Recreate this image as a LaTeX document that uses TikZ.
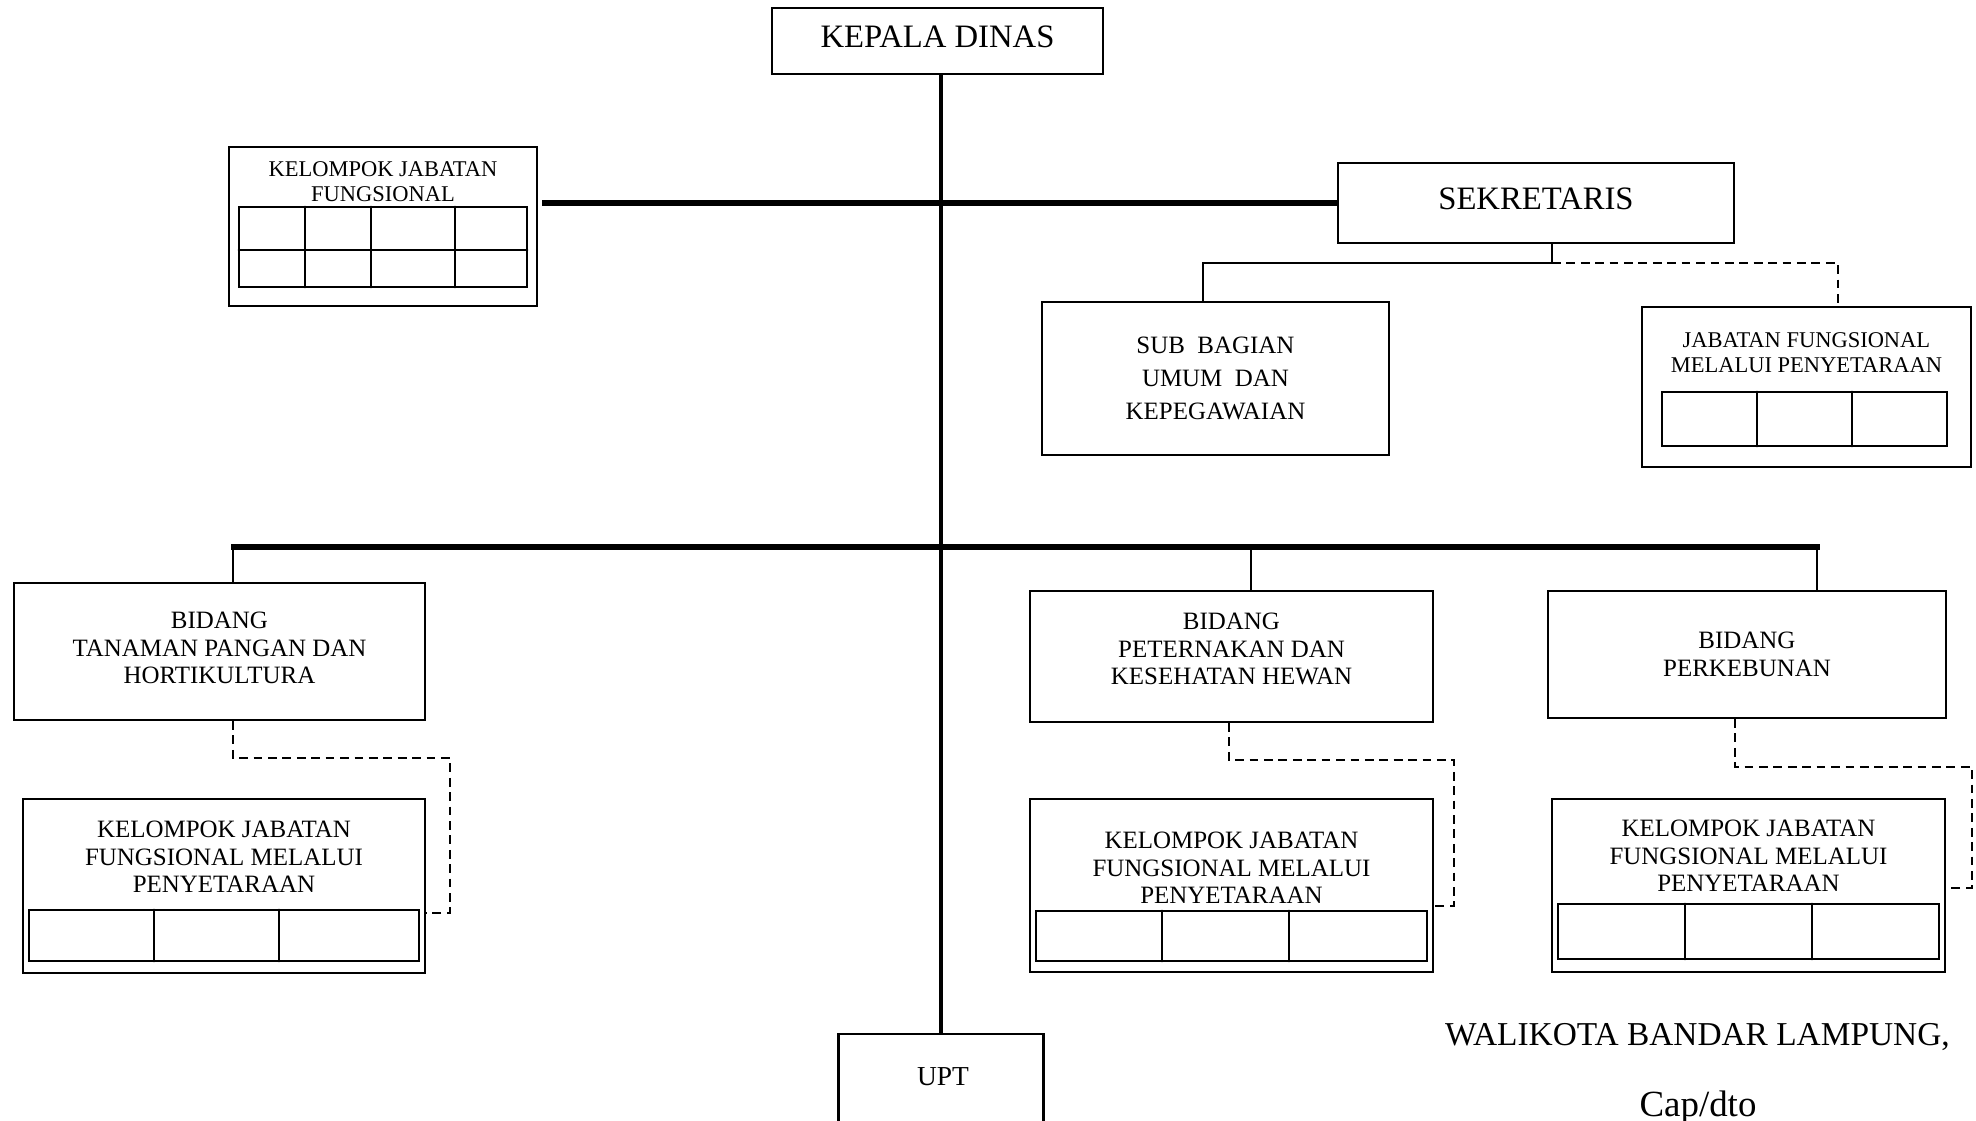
\documentclass[tikz,border=0pt]{standalone}
\usepackage{fontspec}
\setmainfont{Liberation Serif}
\usetikzlibrary{positioning}

\begin{document}
\begin{tikzpicture}[line cap=round,x=1.0cm,y=1.0cm,
        box/.style={draw, line width=0.6pt, inner sep=0pt, align=center},
        bigtext/.style={font=\fontsize{9.3}{11}\selectfont},
        midtext/.style={align=center, font=\fontsize{7.1}{7.8}\selectfont},
        smalltext/.style={align=center, inner sep=0pt, font=\fontsize{6.4}{7.2}\selectfont},
        trunkline/.style={line width=1.4pt, line cap=butt},
        busline/.style={line width=1.7pt, line cap=butt},
        linkline/.style={line width=0.5pt, line cap=butt},
        dashlink/.style={line width=0.6pt, line cap=butt, dash pattern=on 2.5pt off 1.6pt},
        cellline/.style={line width=0.8pt}]
        \useasboundingbox (0,0) rectangle (19.76,-11.21);
        % boxes
        \node[box, bigtext, text depth=0.08cm, minimum width=3.31cm, minimum height=0.66cm] (kd) at (9.375,-0.41) {KEPALA DINAS};
        \node[box, minimum width=3.08cm, minimum height=1.59cm] (kjf) at (3.83,-2.265) {};
        \node[smalltext] (kjftext) at (3.83,-1.815) {KELOMPOK JABATAN\\FUNGSIONAL};
        \node[box, bigtext, text depth=0.08cm, minimum width=3.96cm, minimum height=0.80cm] (sek) at (15.36,-2.03) {SEKRETARIS};
        \node[box, minimum width=3.47cm, minimum height=1.53cm, font=\fontsize{7.1}{9.4}\selectfont] (sub) at (12.155,-3.785) {SUB~~BAGIAN\\UMUM~~DAN\\KEPEGAWAIAN};
        \node[box, minimum width=3.29cm, minimum height=1.60cm] (jf) at (18.065,-3.87) {};
        \node[smalltext] (jftext) at (18.065,-3.53) {JABATAN FUNGSIONAL\\MELALUI PENYETARAAN};
        \node[box, midtext, text depth=0.07cm, minimum width=4.11cm, minimum height=1.37cm] (tp) at (2.195,-6.515) {BIDANG\\TANAMAN PANGAN DAN\\HORTIKULTURA};
        \node[box, midtext, text depth=0.15cm, minimum width=4.03cm, minimum height=1.31cm] (pkh) at (12.315,-6.565) {BIDANG\\PETERNAKAN DAN\\KESEHATAN HEWAN};
        \node[box, midtext, minimum width=3.98cm, minimum height=1.27cm] (pkb) at (17.47,-6.545) {BIDANG\\PERKEBUNAN};
        \node[box, minimum width=4.02cm, minimum height=1.74cm] (mp1) at (2.24,-8.86) {};
        \node[midtext] (mp1text) at (2.24,-8.57) {KELOMPOK JABATAN\\FUNGSIONAL MELALUI\\PENYETARAAN};
        \node[box, minimum width=4.03cm, minimum height=1.73cm] (mp2) at (12.315,-8.855) {};
        \node[midtext] (mp2text) at (12.315,-8.68) {KELOMPOK JABATAN\\FUNGSIONAL MELALUI\\PENYETARAAN};
        \node[box, minimum width=3.93cm, minimum height=1.73cm] (mp3) at (17.485,-8.855) {};
        \node[midtext] (mp3text) at (17.485,-8.56) {KELOMPOK JABATAN\\FUNGSIONAL MELALUI\\PENYETARAAN};
        \node[box, minimum width=2.05cm, minimum height=1.0cm] (upt) at (9.41,-10.84) {};
        \node[font=\fontsize{7.8}{9}\selectfont] (upttext) at (9.43,-10.77) {UPT};
        \node[font=\fontsize{9.5}{11}\selectfont] (walikota) at (16.975,-10.37) {WALIKOTA BANDAR LAMPUNG,};
        \node[font=\fontsize{10.5}{12}\selectfont] (capdto) at (16.98,-11.08) {Cap/dto};
        % grids
        \draw[cellline] (2.39,-2.07) rectangle (5.27,-2.87);
        \draw[cellline] (2.39,-2.50) -- (5.27,-2.50);
        \foreach \x in {3.05,3.71,4.55} \draw[cellline] (\x,-2.07) -- (\x,-2.87);
        \draw[cellline] (16.62,-3.92) rectangle (19.47,-4.46);
        \foreach \x in {17.57,18.52} \draw[cellline] (\x,-3.92) -- (\x,-4.46);
        \draw[cellline] (0.29,-9.10) rectangle (4.19,-9.61);
        \foreach \x in {1.54,2.79} \draw[cellline] (\x,-9.10) -- (\x,-9.61);
        \draw[cellline] (10.36,-9.11) rectangle (14.27,-9.61);
        \foreach \x in {11.62,12.89} \draw[cellline] (\x,-9.11) -- (\x,-9.61);
        \draw[cellline] (15.58,-9.04) rectangle (19.39,-9.59);
        \foreach \x in {16.85,18.12} \draw[cellline] (\x,-9.04) -- (\x,-9.59);
        % main lines
        \draw[trunkline] (kd.south -| upt.north) -- (upt.north);   %trunk
        \coordinate (kjfgap) at ([xshift=0.04cm]kjf.east);
        \draw[busline] (kjfgap |- sek.west) -- (sek.west);      %kjf-sek
        \coordinate (busL) at (2.31,-5.47);
        \coordinate (busR) at (18.20,-5.47);
        \draw[busline] (busL) -- (busR);                         %bidang bus
        \coordinate (tpdrop) at ([xshift=0.135cm]tp.north);
        \coordinate (pkhdrop) at ([xshift=0.195cm]pkh.north);
        \coordinate (pkbdrop) at ([xshift=0.70cm]pkb.north);
        \draw[linkline] (tpdrop |- busL) -- (tpdrop);
        \draw[linkline] (pkhdrop |- busL) -- (pkhdrop);
        \draw[linkline] (pkbdrop |- busL) -- (pkbdrop);
        % sekretaris
        \coordinate (sekjoint) at ([xshift=0.16cm,yshift=-0.19cm]sek.south);
        \draw[linkline] ([xshift=0.16cm]sek.south) -- (sekjoint) -| ([xshift=-0.125cm]sub.north);
        \draw[dashlink] (sekjoint) -| ([xshift=0.315cm]jf.north);
        % dashed links
        \draw[dashlink] ([xshift=0.135cm]tp.south) -- ++(0,-0.37) -| ([xshift=0.24cm,yshift=-0.27cm]mp1.east) -- ([yshift=-0.27cm]mp1.east);
        \draw[dashlink] ([xshift=-0.025cm]pkh.south) -- ++(0,-0.37) -| ([xshift=0.20cm,yshift=-0.205cm]mp2.east) -- ([yshift=-0.205cm]mp2.east);
        \draw[dashlink] ([xshift=-0.12cm]pkb.south) -- ++(0,-0.48) -| ([xshift=0.26cm,yshift=-0.025cm]mp3.east) -- ([yshift=-0.025cm]mp3.east);
    \end{tikzpicture}
\end{document}
